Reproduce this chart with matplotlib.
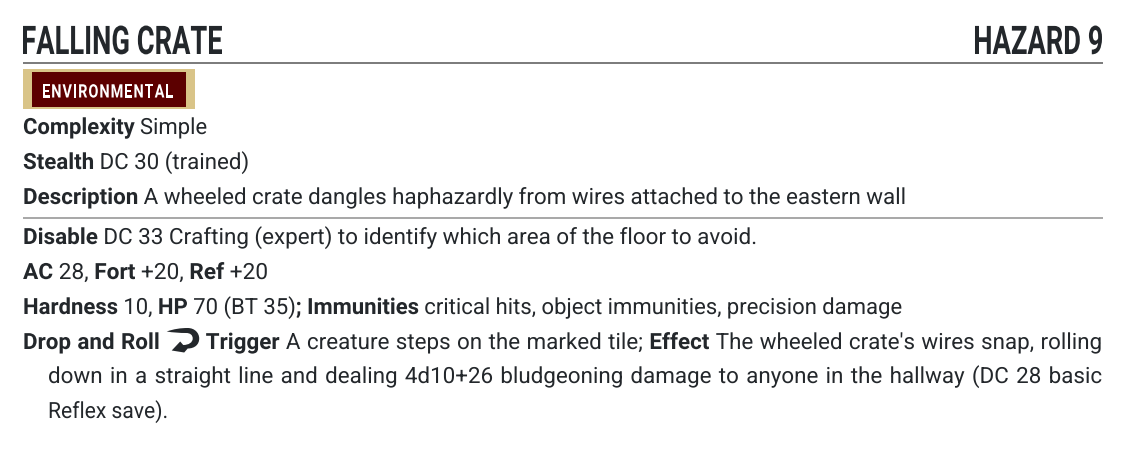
import matplotlib
matplotlib.use("Agg")
import matplotlib.pyplot as plt
from matplotlib.textpath import TextPath
from matplotlib.patches import PathPatch, Rectangle
from matplotlib.path import Path
from matplotlib.font_manager import FontProperties, findfont, get_font
from matplotlib.transforms import Affine2D

try:
    from matplotlib.ft2font import LoadFlags
    NOHINT = LoadFlags.NO_HINTING
except ImportError:
    from matplotlib.ft2font import LOAD_NO_HINTING as NOHINT
try:
    from matplotlib.ft2font import Kerning
    KERN = Kerning.DEFAULT
except ImportError:
    from matplotlib.ft2font import KERNING_DEFAULT as KERN

# ---------------- content ----------------
TITLE = "FALLING CRATE"
LEVEL = "HAZARD 9"
TRAITS = ["ENVIRONMENTAL"]
ICON = "<reaction>"

HEADER_LINES = [
    [("Complexity", True), (" Simple", False)],
    [("Stealth", True), (" DC 30 (trained)", False)],
    [("Description", True),
     (" A wheeled crate dangles haphazardly from wires attached to the eastern wall", False)],
]
DEFENSE_LINES = [
    [("Disable", True),
     (" DC 33 Crafting (expert) to identify which area of the floor to avoid.", False)],
    [("AC", True), (" 28, ", False), ("Fort", True), (" +20, ", False),
     ("Ref", True), (" +20", False)],
    [("Hardness", True), (" 10, ", False), ("HP", True), (" 70 (BT 35)", False),
     ("; Immunities", True),
     (" critical hits, object immunities, precision damage", False)],
]
REACTION_LINES = [
    [("Drop and Roll ", True), (ICON, None), (" Trigger", True),
     (" A creature steps on the marked tile; ", False), ("Effect", True),
     (" The wheeled crate's wires snap, rolling", False)],
    [("down in a straight line and dealing 4d10+26 bludgeoning damage to anyone "
      "in the hallway (DC 28 basic", False)],
    [("Reflex save).", False)],
]

# ---------------- style / layout ----------------
W, H = 1125, 450
LEFT, RIGHT = 23, 1103
TEXT_COLOR = "#23272b"
FAMILY = "Roboto"
BODY_SIZE = 22.3
FP = {False: FontProperties(family=FAMILY, weight="normal"),
      True: FontProperties(family=FAMILY, weight="bold")}

HEADER_Y = [134, 169, 204]
HEADER_END = [207, 249, 906]
DEFENSE_Y = [244, 279, 314]
DEFENSE_END = [757, 268, 902]
REACT_X = [LEFT, 48, 48]
REACT_Y = [349, 383, 418]
REACT_END = [RIGHT - 1, RIGHT - 1, 168]


def advance(text, bold, size):
    f = get_font(findfont(FP[bold]))
    f.set_size(size, 72)
    total, prev = 0.0, None
    for ch in text:
        idx = f.get_char_index(ord(ch))
        if prev is not None:
            total += f.get_kerning(prev, idx, KERN) / 64.0
        g = f.load_glyph(idx, flags=NOHINT)
        total += g.linearHoriAdvance / 65536.0
        prev = idx
    return total


def draw_text(ax, x, y, text, bold, size, sx, color):
    tp = TextPath((0, 0), text, size=size, prop=FP[bold])
    tr = Affine2D().scale(sx, -1).translate(x, y) + ax.transData
    ax.add_patch(PathPatch(tp, transform=tr, fc=color, ec="none", lw=0))


def ink_extents(text, bold, size):
    tp = TextPath((0, 0), text, size=size, prop=FP[bold])
    return tp.get_extents()


def words_of(runs):
    words, cur = [], []
    for text, bold in runs:
        if bold is None:
            if cur:
                words.append(cur)
                cur = []
            words.append([(text, None)])
            continue
        parts = text.split(" ")
        for i, p in enumerate(parts):
            if i > 0 and cur:
                words.append(cur)
                cur = []
            if p:
                cur.append((p, bold))
    if cur:
        words.append(cur)
    return words


ICON_W = 33.0


def word_width(word, size, sx):
    w = 0.0
    for text, bold in word:
        w += ICON_W if bold is None else advance(text, bold, size) * sx
    return w


def draw_icon(ax, x, y, color):
    # reaction glyph, local coordinates relative to (x, baseline y)
    pts = [
        (0, -17.5), (7, -20), (14, -21), (21, -21),
        (28, -21), (32.5, -16), (32.5, -10.5),
        (32.5, -4.5), (28, -0.5), (21, -0.5),
        (17.5, 3.5), (5, 1.5), (13.5, -7.5), (16.5, -4.0),
        (22, -4), (26, -6.5), (26, -10.5),
        (26, -14), (23.5, -16), (19.5, -16),
        (13, -16), (6, -16.5), (0, -17.5),
    ]
    codes = [Path.MOVETO, Path.CURVE4, Path.CURVE4, Path.CURVE4,
             Path.CURVE4, Path.CURVE4, Path.CURVE4,
             Path.CURVE4, Path.CURVE4, Path.CURVE4,
             Path.LINETO, Path.LINETO, Path.LINETO, Path.LINETO,
             Path.CURVE4, Path.CURVE4, Path.CURVE4,
             Path.CURVE4, Path.CURVE4, Path.CURVE4,
             Path.CURVE4, Path.CURVE4, Path.CURVE4]
    p = Path([(x + a, y + b) for a, b in pts], codes)
    ax.add_patch(PathPatch(p, fc=color, ec="none", lw=0))


def draw_line(ax, x0, y, runs, size, color, end, justify=False):
    words = words_of(runs)
    space1 = advance(" ", False, size)
    if justify:
        sx = BSX
    else:
        # horizontal scale so that the line ends where the reference line ends
        nat_text = sum(word_width(w, size, 1.0) for w in words) + space1 * (len(words) - 1)
        sx = (end - x0) / nat_text
    space = space1 * sx
    widths = [word_width(w, size, sx) for w in words]
    gap = space
    if justify and len(words) > 1:
        natural = sum(widths) + space * (len(words) - 1)
        gap = space + (end - x0 - natural) / (len(words) - 1)
    x = x0
    for w, ww in zip(words, widths):
        xx = x
        for text, bold in w:
            if bold is None:
                draw_icon(ax, xx + 0.5, y, color)
                xx += ICON_W
            else:
                draw_text(ax, xx, y, text, bold, size, sx, color)
                xx += advance(text, bold, size) * sx
        x += ww + gap
    return x


fig = plt.figure(figsize=(W / 100, H / 100), dpi=100)
ax = fig.add_axes([0, 0, 1, 1])
ax.set_xlim(0, W)
ax.set_ylim(H, 0)
ax.axis("off")
fig.patch.set_facecolor("white")

# ---- title row ----
TITLE_SIZE = 39.5
ext = ink_extents(TITLE, True, TITLE_SIZE)
tsx = 199.0 / ext.width
draw_text(ax, LEFT - ext.x0 * tsx, 54, TITLE, True, TITLE_SIZE, tsx, TEXT_COLOR)
ext2 = ink_extents(LEVEL, True, TITLE_SIZE)
draw_text(ax, RIGHT - 1 - ext2.x1 * tsx, 54, LEVEL, True, TITLE_SIZE, tsx, TEXT_COLOR)
ax.add_patch(Rectangle((LEFT, 62.0), RIGHT - LEFT, 2.4, fc="#7d7d7d", ec="none"))

# ---- traits (condensed, letter-spaced) ----
TRAIT_SIZE = 18.6
TRAIT_SX = 0.78
tx = LEFT
for trait in TRAITS:
    advs = [advance(c, True, TRAIT_SIZE) * TRAIT_SX for c in trait]
    e_last = ink_extents(trait[-1], True, TRAIT_SIZE)
    e_first = ink_extents(trait[0], True, TRAIT_SIZE)
    base_w = sum(advs[:-1]) + e_last.x1 * TRAIT_SX - e_first.x0 * TRAIT_SX
    track = (130.0 - base_w) / (len(trait) - 1)
    tw = 130.0
    ax.add_patch(Rectangle((tx, 69), tw + 42, 40, fc="#d9c488", ec="none"))
    ax.add_patch(Rectangle((tx + 9, 72), tw + 24, 35, fc="#5c0000", ec="none"))
    cx = tx + 20 - e_first.x0 * TRAIT_SX
    for c, a in zip(trait, advs):
        draw_text(ax, cx, 97.5, c, True, TRAIT_SIZE, TRAIT_SX, "white")
        cx += a + track
    tx += tw + 46

# ---- body scale for justified lines, calibrated on the description line ----
desc_words = words_of(HEADER_LINES[2])
nat = sum(word_width(w, BODY_SIZE, 1.0) for w in desc_words) + \
    advance(" ", False, BODY_SIZE) * (len(desc_words) - 1)
BSX = (HEADER_END[2] - LEFT) / nat

for line, yb, xe in zip(HEADER_LINES, HEADER_Y, HEADER_END):
    draw_line(ax, LEFT, yb, line, BODY_SIZE, TEXT_COLOR, xe)

ax.add_patch(Rectangle((LEFT, 216.8), RIGHT - LEFT, 1.8, fc="#a9a9a9", ec="none"))

for line, yb, xe in zip(DEFENSE_LINES, DEFENSE_Y, DEFENSE_END):
    draw_line(ax, LEFT, yb, line, BODY_SIZE, TEXT_COLOR, xe)

for i, (line, x0, yb, xe) in enumerate(zip(REACTION_LINES, REACT_X, REACT_Y, REACT_END)):
    just = i < len(REACTION_LINES) - 1
    draw_line(ax, x0, yb, line, BODY_SIZE, TEXT_COLOR, xe, justify=just)

fig.savefig("out.png", dpi=100, facecolor="white")
